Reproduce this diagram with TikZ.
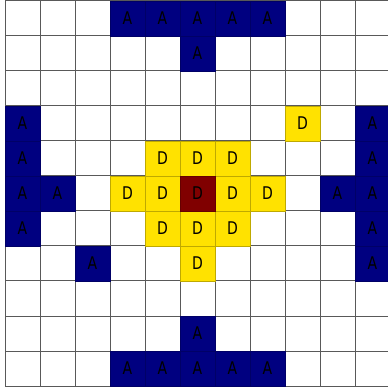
\documentclass[tikz,border=0pt]{standalone}
\usepackage{fontspec}
\setmainfont{DejaVu Sans}
\definecolor{navyA}{RGB}{0,0,128}
\definecolor{yelD}{RGB}{255,226,0}
\definecolor{redD}{RGB}{128,0,0}
\tikzset{
  cellA/.style={fill=navyA, draw=navyA!80!black, line width=0.8pt},
  cellD/.style={fill=yelD, draw=yelD!75!black, line width=0.8pt},
  cellC/.style={fill=redD, draw=redD!80!black, line width=0.8pt},
  gridline/.style={draw=black!65, line width=1pt},
  lbl/.style={font=\fontsize{17.5}{17.5}\selectfont, text=black, inner sep=0pt, xscale=0.8, transform shape},
}
\begin{document}
\begin{tikzpicture}[x=1pt,y=-1pt]
\useasboundingbox (0,0) rectangle (388,387);
\clip (0,0) rectangle (388,387);
\fill[white] (0,0) rectangle (388,387);
% grid
\foreach \k in {0,...,11}{
  \draw[gridline] ({5+35*\k},1) -- ({5+35*\k},386);
  \draw[gridline] (5,{1+35*\k}) -- (390,{1+35*\k});
}
% A cells: col/row
\foreach \c/\r [count=\i] in {3/0,4/0,5/0,6/0,7/0,5/1,0/3,0/4,0/5,1/5,0/6,2/7,10/3,10/4,9/5,10/5,10/6,10/7,5/9,3/10,4/10,5/10,6/10,7/10}{
  \path[cellA] ({5+35*\c},{1+35*\r}) rectangle +(35,35);
  \node[lbl] (a\i) at ({5+35*\c+17.5},{1+35*\r+17.5}) {A};
}
\foreach \c/\r [count=\i] in {8/3,4/4,5/4,6/4,3/5,4/5,6/5,7/5,4/6,5/6,6/6,5/7}{
  \path[cellD] ({5+35*\c},{1+35*\r}) rectangle +(35,35);
  \node[lbl] (d\i) at ({5+35*\c+17.5},{1+35*\r+17.5}) {D};
}
\path[cellC] ({5+35*5},{1+35*5}) rectangle +(35,35);
\node[lbl] (dc) at ({5+35*5+17.5},{1+35*5+17.5}) {D};
\end{tikzpicture}
\end{document}
